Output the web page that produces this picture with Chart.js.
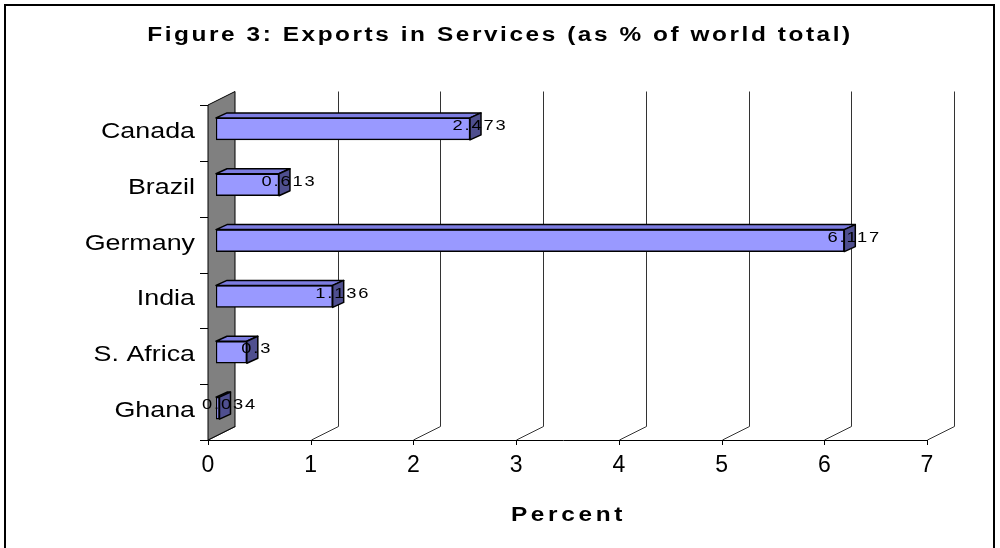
<!doctype html>
<html>
  <head>
    <title>Figure 3: Exports in Services</title>
    <script src="https://cdn.jsdelivr.net/npm/chart.js"></script>
    <style>
      body { margin: 0; background: #fff; }
      #wrap { width: 1000px; height: 548px; }
    </style>
  </head>
  <body>
    <div id="wrap"><canvas id="bar_chart"></canvas></div>
  <script>
    const countries = ['Canada', 'Brazil', 'Germany', 'India', 'S. Africa', 'Ghana'];
    const shares = [2.473, 0.613, 6.117, 1.136, 0.3, 0.034];
    const percentTicks = [0, 1, 2, 3, 4, 5, 6, 7];

    // fake 3d: offsets from the bar plane (what the chart area maps to)
    const FRONT = { dx: -8, dy: 4 };
    const BACK = { dx: 19, dy: -9.5 };
    const BAR_DEPTH = { dx: 11, dy: -5 };
    // the original picture was stretched sideways, text looks wide
    const STRETCH = 1.22;
    const FONT = '"Liberation Sans", Arial, sans-serif';

    // wrap a draw method: letter spacing + horizontal stretch round a pivot x,
    // optionally moving the pivot to another x
    function widen(obj, name, spacing, pivot, target) {
      const orig = obj[name];
      obj[name] = function (...args) {
        const ctx = this.ctx;
        const px = pivot(this);
        const tx = target === undefined ? px : target(this);
        ctx.save();
        ctx.letterSpacing = spacing + 'px';
        ctx.translate(tx, 0);
        ctx.scale(STRETCH, 1);
        ctx.translate(-px, 0);
        orig.apply(this, args);
        ctx.restore();
      };
    }

    function poly(ctx, pts, fill) {
      ctx.beginPath();
      ctx.moveTo(pts[0][0], pts[0][1]);
      for (let i = 1; i < pts.length; i++) ctx.lineTo(pts[i][0], pts[i][1]);
      ctx.closePath();
      ctx.fillStyle = fill;
      ctx.fill();
      ctx.stroke();
    }

    const depthPlugin = {
      id: 'depth',
      afterLayout(chart) {
        if (chart.$widened) return;
        chart.$widened = true;
        // title sits over the whole frame, not over the padded area
        widen(chart.titleBlock, 'draw', 2.1, b => (b.left + b.right) / 2, () => chart.width / 2);
        widen(chart.scales.y, 'drawLabels', 0, s => s.right - s.options.ticks.padding);
        widen(chart.scales.x, 'drawTitle', 3, s => (s.left + s.right) / 2, s => (s.left + s.right) / 2 - 7);
      },
      beforeDraw(chart) {
        const ctx = chart.ctx;
        ctx.save();
        ctx.fillStyle = '#fff';
        ctx.fillRect(0, 0, chart.width, chart.height);
        ctx.strokeStyle = '#000';
        ctx.lineWidth = 2;
        ctx.strokeRect(5, 5, 989, 600);
        ctx.restore();
      },
      beforeDatasetsDraw(chart) {
        const ctx = chart.ctx;
        const xs = chart.scales.x, ys = chart.scales.y, a = chart.chartArea;
        const x0 = xs.getPixelForValue(0);
        const fTop = a.top + FRONT.dy, fBot = a.bottom + FRONT.dy;
        const bTop = a.top + BACK.dy, bBot = a.bottom + BACK.dy;
        ctx.save();
        ctx.lineWidth = 1;
        ctx.strokeStyle = '#333';
        percentTicks.forEach(v => {
          const p = Math.round(xs.getPixelForValue(v)) + 0.5;
          ctx.beginPath();
          if (v > 0) {
            ctx.moveTo(p + BACK.dx, bTop);
            ctx.lineTo(p + BACK.dx, bBot);
          } else {
            ctx.moveTo(p + BACK.dx, bBot);
          }
          ctx.lineTo(p + FRONT.dx, fBot);
          ctx.stroke();
        });

        // side wall
        ctx.strokeStyle = '#000';
        poly(ctx, [
          [x0 + FRONT.dx, fTop], [x0 + BACK.dx, bTop],
          [x0 + BACK.dx, bBot], [x0 + FRONT.dx, fBot]
        ], '#808080');

        // front axis line and its tick marks
        const xEnd = xs.getPixelForValue(percentTicks[percentTicks.length - 1]);
        ctx.beginPath();
        ctx.moveTo(x0 + FRONT.dx - 8, Math.round(fBot) + 0.5);
        ctx.lineTo(xEnd + FRONT.dx, Math.round(fBot) + 0.5);
        percentTicks.forEach(v => {
          const p = Math.round(xs.getPixelForValue(v) + FRONT.dx) + 0.5;
          ctx.moveTo(p, fBot);
          ctx.lineTo(p, fBot + 5);
        });
        // category ticks left of the wall
        for (let i = 0; i < countries.length; i++) {
          const y = Math.round(ys.getPixelForValue(i - 0.5) + FRONT.dy) + 0.5;
          ctx.moveTo(x0 + FRONT.dx - 8, y);
          ctx.lineTo(x0 + FRONT.dx, y);
        }
        ctx.stroke();
        ctx.restore();
      },
      afterDatasetsDraw(chart) {
        const ctx = chart.ctx;
        const meta = chart.getDatasetMeta(0);
        ctx.save();
        ctx.strokeStyle = '#000';
        ctx.lineWidth = 1.5;
        ctx.lineJoin = 'round';
        meta.data.forEach(bar => {
          const { x, y, base, height } = bar.getProps(['x', 'y', 'base', 'height'], true);
          const top = y - height / 2, bot = y + height / 2;
          const dx = BAR_DEPTH.dx, dy = BAR_DEPTH.dy;
          poly(ctx, [[base, top], [base + dx, top + dy], [x + dx, top + dy], [x, top]], '#7C7CE0');
          poly(ctx, [[x, top], [x + dx, top + dy], [x + dx, bot + dy], [x, bot]], '#4F4F8F');
        });

        // value labels, centred on the back end of each bar
        ctx.fillStyle = '#000';
        ctx.font = '15px ' + FONT;
        ctx.letterSpacing = '1.5px';
        ctx.textAlign = 'center';
        ctx.textBaseline = 'middle';
        meta.data.forEach((bar, i) => {
          ctx.save();
          ctx.translate(bar.x + 10, bar.y - 3);
          ctx.scale(STRETCH, 1);
          ctx.fillText(String(shares[i]), 0, 0);
          ctx.restore();
        });
        ctx.restore();
      }
    };

    const chart = new Chart(document.getElementById('bar_chart'), {
      type: 'bar',
      data: {
        labels: countries,
        datasets: [{
          data: shares,
          backgroundColor: '#9999FF',
          borderColor: '#000',
          borderWidth: 1.5,
          borderSkipped: false,
          barThickness: 22
        }]
      },
      options: {
        indexAxis: 'y',
        responsive: true,
        maintainAspectRatio: false,
        animation: false,
        layout: { padding: { left: 0, right: 65, top: 0, bottom: 0 } },
        plugins: {
          legend: { display: false },
          tooltip: { enabled: false },
          title: {
            display: true,
            text: 'Figure 3: Exports in Services (as % of world total)',
            color: '#000',
            font: { family: FONT, size: 20, weight: 'bold' },
            padding: { top: 23, bottom: 54 }
          }
        },
        scales: {
          x: {
            min: 0,
            max: 7,
            afterBuildTicks: s => { s.ticks = percentTicks.map(v => ({ value: v })); },
            afterFit: s => { s.height = 112; },
            grid: { display: false, drawTicks: false },
            border: { display: false },
            ticks: {
              color: '#000',
              padding: 16,
              labelOffset: FRONT.dx,
              font: { family: FONT, size: 23 }
            },
            title: {
              display: true,
              text: 'Percent',
              color: '#000',
              font: { family: FONT, size: 20, weight: 'bold' },
              padding: { top: 0, bottom: 21 }
            }
          },
          y: {
            afterFit: s => { s.width = 216; },
            grid: { display: false, drawTicks: false },
            border: { display: false },
            ticks: {
              color: '#000',
              padding: 21,
              labelOffset: 3,
              font: { family: FONT, size: 22 }
            }
          }
        }
      },
      plugins: [depthPlugin]
    });
  </script>
  </body>
</html>
